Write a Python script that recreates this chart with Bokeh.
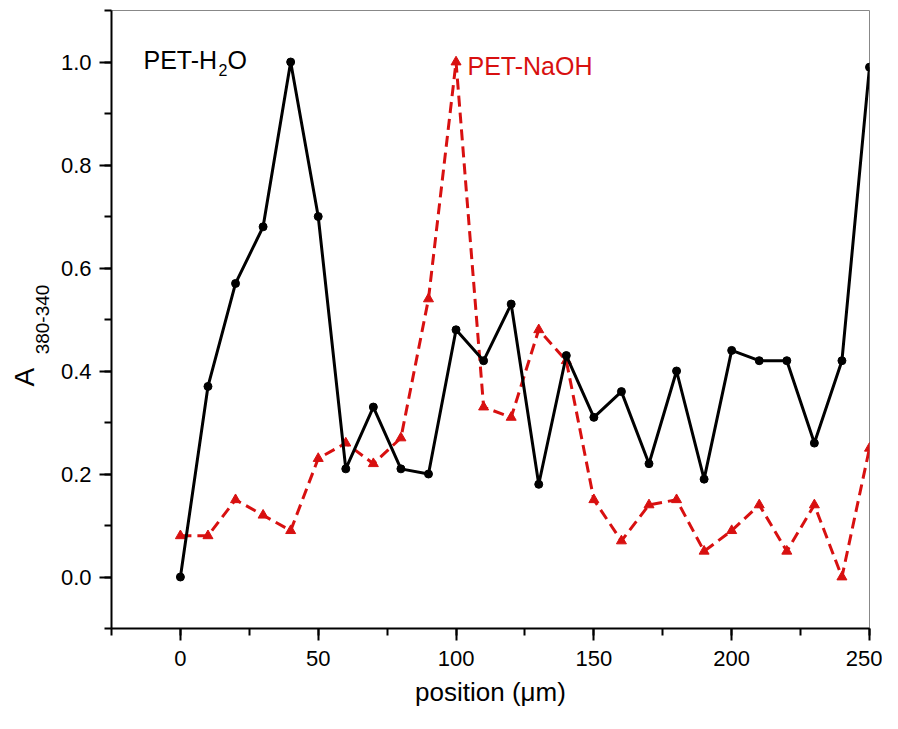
from bokeh.plotting import figure
from bokeh.models import Label, SingleIntervalTicker, PrintfTickFormatter, Range1d, Title
from bokeh.embed import file_html
from bokeh.resources import INLINE

# ---- data ----
positions = [0, 10, 20, 30, 40, 50, 60, 70, 80, 90, 100, 110, 120, 130, 140,
             150, 160, 170, 180, 190, 200, 210, 220, 230, 240, 250]
pet_h2o = [0.00, 0.37, 0.57, 0.68, 1.00, 0.70, 0.21, 0.33, 0.21, 0.20, 0.48,
           0.42, 0.53, 0.18, 0.43, 0.31, 0.36, 0.22, 0.40, 0.19, 0.44, 0.42,
           0.42, 0.26, 0.42, 0.99]
pet_naoh = [0.08, 0.08, 0.15, 0.12, 0.09, 0.23, 0.26, 0.22, 0.27, 0.54, 1.00,
            0.33, 0.31, 0.48, 0.42, 0.15, 0.07, 0.14, 0.15, 0.05, 0.09, 0.14,
            0.05, 0.14, 0.00, 0.25]

FONT = "Liberation Sans"
RED = "#d81010"

p = figure(width=882, height=713,
           min_border_left=111, min_border_right=13,
           min_border_top=10, min_border_bottom=85,
           x_range=Range1d(-25, 250), y_range=Range1d(-0.1, 1.1),
           output_backend="svg", toolbar_location=None)
p.xgrid.visible = False
p.ygrid.visible = False
p.outline_line_color = "#888888"
p.outline_line_width = 1
p.background_fill_color = "white"
p.border_fill_color = "white"

p.xaxis.ticker = SingleIntervalTicker(interval=50, num_minor_ticks=2)
p.yaxis.ticker = SingleIntervalTicker(interval=0.2, num_minor_ticks=2)
p.yaxis.formatter = PrintfTickFormatter(format="%.1f")
for ax in (p.xaxis, p.yaxis):
    ax.axis_line_width = 2
    ax.axis_line_color = "black"
    ax.major_tick_line_width = 2
    ax.minor_tick_line_width = 2
    ax.major_tick_line_color = "black"
    ax.minor_tick_line_color = "black"
    ax.major_tick_out = 12
    ax.major_tick_in = 0
    ax.minor_tick_out = 7
    ax.minor_tick_in = 0
    ax.major_label_text_font = FONT
    ax.major_label_text_font_size = "22px"
    ax.major_label_text_color = "black"
    ax.axis_label_text_font = FONT
    ax.axis_label_text_font_style = "normal"
    ax.axis_label_text_color = "black"
p.xaxis.major_label_standoff = 10
p.yaxis.major_label_standoff = 8

p.xaxis.axis_label = "position (\u03bcm)"
p.xaxis.axis_label_text_font_size = "26px"
p.xaxis.axis_label_standoff = 8

p.yaxis.axis_label = "380-340"
p.yaxis.axis_label_text_font_size = "19px"
p.yaxis.axis_label_standoff = 9

title_a = Title(text="A", align="left", offset=242, vertical_align="bottom",
                text_font=FONT, text_font_size="28px", text_font_style="normal",
                text_color="black")
try:
    title_a.standoff = -14
except Exception:
    title_a.standoff = 0
p.add_layout(title_a, "left")

# series
p.line(positions, pet_naoh, line_color=RED, line_width=3, line_dash="11 6")
p.scatter(positions, pet_naoh, marker="triangle", size=10, fill_color=RED,
          line_color=RED)
p.line(positions, pet_h2o, line_color="black", line_width=3)
p.scatter(positions, pet_h2o, marker="circle", size=8, fill_color="black",
          line_color="black")

# in-plot labels
p.add_layout(Label(x=-13.39, y=1.004, text="PET-H", text_font=FONT,
                   text_baseline="alphabetic",
                   text_font_size="25px", text_color="black"))
p.add_layout(Label(x=13.82, y=0.985, text="2", text_font=FONT,
                   text_baseline="alphabetic",
                   text_font_size="16px", text_color="black"))
p.add_layout(Label(x=17.08, y=1.004, text="O", text_font=FONT,
                   text_baseline="alphabetic",
                   text_font_size="25px", text_color="black"))
p.add_layout(Label(x=104.15, y=0.993, text="PET-NaOH", text_font=FONT,
                   text_baseline="alphabetic",
                   text_font_size="25px", text_color=RED))

open("out.html", "w").write(file_html(p, INLINE))
